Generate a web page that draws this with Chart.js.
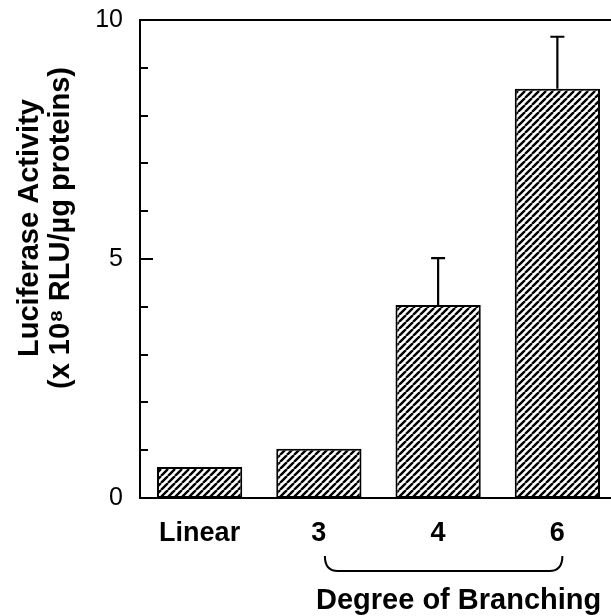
<!DOCTYPE html>
<html>
<head>
<meta charset="utf-8">
<script src="https://cdn.jsdelivr.net/npm/chart.js@4"></script>
<style>
    html, body { margin: 0; padding: 0; background: #fff; overflow: hidden; }
    #wrap { width: 620px; height: 616px; }
</style>
</head>
<body>
<div id="wrap"><canvas id="chart" width="620" height="616"></canvas></div>
<script>
// data
const categories = ["Linear", "3", "4", "6"];
const activity = [0.65, 1.03, 4.04, 8.56];      // x 10^8 RLU/ug protein
const errUpper = [0, 0, 0.98, 1.09];            // only upper error bars shown
const yLabels = [0, 5, 10];
const groupLabel = "Degree of Branching";
const groupFrom = "3", groupTo = "6";

const FONT = "'Liberation Sans', Arial, Helvetica, sans-serif";

// hatch fill ////
function makeHatch() {
    const s = 7;
    const c = document.createElement("canvas");
    c.width = s; c.height = s;
    const g = c.getContext("2d");
    g.fillStyle = "#fff";
    g.fillRect(0, 0, s, s);
    g.strokeStyle = "#000";
    g.lineWidth = 2.4;
    g.beginPath();
    for (let k = -1; k <= 1; k++) {
        g.moveTo(k * s, s);
        g.lineTo(k * s + s, 0);
    }
    g.stroke();
    return g.createPattern(c, "repeat");
}

// inward ticks, top frame, error bars, y title, brace
const extras = {
    id: "extras",
    afterDatasetsDraw(chart) {
        const ctx = chart.ctx;
        const a = chart.chartArea;
        const x = chart.scales.x, y = chart.scales.y;
        ctx.save();
        ctx.strokeStyle = "#000";
        ctx.lineCap = "butt";

        // top frame line
        ctx.lineWidth = 2;
        ctx.beginPath();
        ctx.moveTo(a.left - 1, a.top);
        ctx.lineTo(a.right + 10, a.top);
        ctx.stroke();

        // inward ticks every 1 unit
        ctx.lineWidth = 2;
        for (let v = 1; v < 10; v++) {
            const py = Math.round(y.getPixelForValue(v));
            const len = yLabels.includes(v) ? 13 : 8;
            ctx.beginPath();
            ctx.moveTo(a.left, py);
            ctx.lineTo(a.left + len, py);
            ctx.stroke();
        }

        // error bars
        ctx.lineWidth = 2.2;
        activity.forEach((v, i) => {
            if (!errUpper[i]) return;
            const cx = x.getPixelForValue(i);
            const y0 = y.getPixelForValue(v);
            const y1 = y.getPixelForValue(v + errUpper[i]);
            ctx.beginPath();
            ctx.moveTo(cx, y0);
            ctx.lineTo(cx, y1);
            ctx.moveTo(cx - 7, y1);
            ctx.lineTo(cx + 7, y1);
            ctx.stroke();
        });

        // y axis title
        ctx.fillStyle = "#000";
        ctx.font = "bold 29px " + FONT;
        ctx.textAlign = "center";
        ctx.textBaseline = "middle";
        const ty = 228;
        ctx.save();
        ctx.translate(30, ty);
        ctx.rotate(-Math.PI / 2);
        ctx.fillText("Luciferase Activity", 0, 0);
        ctx.restore();
        ctx.save();
        ctx.translate(61, ty);
        ctx.rotate(-Math.PI / 2);
        ctx.fillText("(x 10\u2078 RLU/\u00b5g proteins)", 0, 0);
        ctx.restore();

        // brace under the branched group
        const bx0 = x.getPixelForValue(categories.indexOf(groupFrom)) + 6;
        const bx1 = x.getPixelForValue(categories.indexOf(groupTo)) + 5;
        const byTop = 556, byBot = 571, r = 13;
        ctx.lineWidth = 2;
        ctx.beginPath();
        ctx.moveTo(bx0, byTop);
        ctx.quadraticCurveTo(bx0, byBot, bx0 + r, byBot);
        ctx.lineTo(bx1 - r, byBot);
        ctx.quadraticCurveTo(bx1, byBot, bx1, byTop);
        ctx.stroke();

        ctx.font = "bold 29px " + FONT;
        ctx.textBaseline = "alphabetic";
        ctx.fillText(groupLabel, (bx0 + bx1) / 2 + 15, 609);
        ctx.restore();
    }
};

new Chart(document.getElementById("chart"), {
    type: "bar",
    data: {
        labels: categories,
        datasets: [{
            data: activity,
            backgroundColor: makeHatch(),
            borderColor: "#000",
            borderWidth: 2,
            borderSkipped: false,
            barPercentage: 0.715,
            categoryPercentage: 1
        }]
    },
    options: {
        responsive: false,
        animation: false,
        layout: { padding: { top: 20, right: 3, left: 0, bottom: 0 } },
        plugins: { legend: { display: false }, tooltip: { enabled: false } },
        scales: {
            x: {
                grid: { display: false, drawTicks: false },
                border: { color: "#000", width: 2 },
                ticks: {
                    color: "#000",
                    padding: 19,
                    font: { family: FONT, size: 27, weight: "bold" }
                },
                afterFit: s => {
                    s.height = 118;
                    s.paddingLeft = 0; s.paddingRight = 0;
                }
            },
            y: {
                min: 0, max: 10,
                grid: { display: false, drawTicks: false },
                border: { color: "#000", width: 2 },
                ticks: {
                    stepSize: 5,
                    color: "#000",
                    padding: 17,
                    font: { family: FONT, size: 25 },
                    callback: v => yLabels.includes(v) ? v : ""
                },
                afterFit: s => {
                    s.width = 140;
                    s.paddingTop = 0; s.paddingBottom = 0;
                }
            }
        }
    },
    plugins: [extras]
});
</script>
</body>
</html>
